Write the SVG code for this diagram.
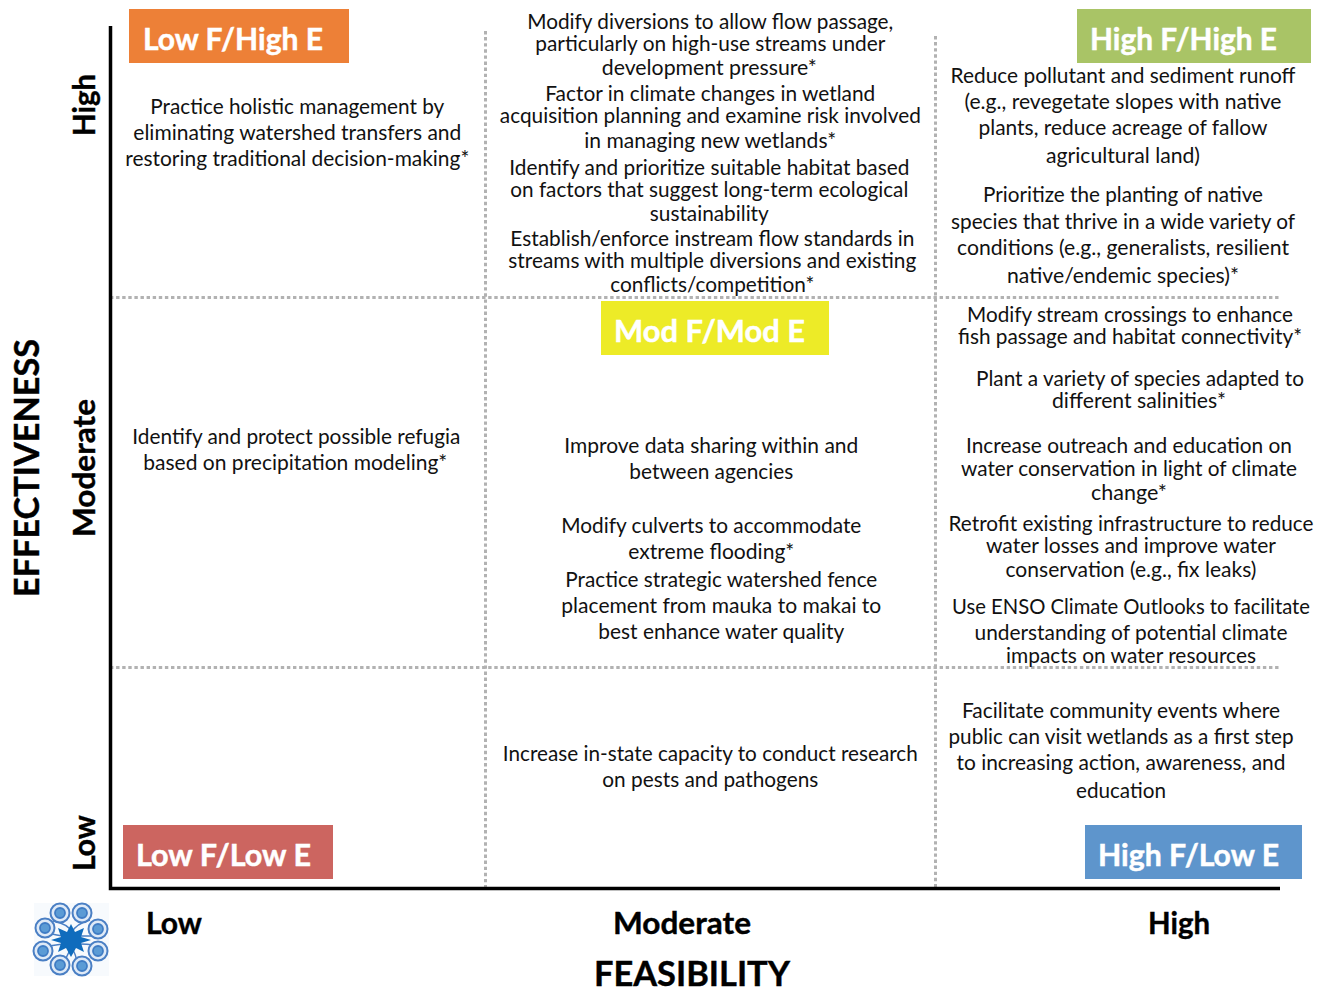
<svg xmlns="http://www.w3.org/2000/svg" width="1327" height="990" viewBox="0 0 1327 990">
<style>
text{font-family:"Lato","Liberation Sans",sans-serif;fill:#111}
.b{font-size:21px;text-anchor:middle}
.h{font-size:31px;font-weight:700;fill:#fff;stroke:#fff;stroke-width:.5px}
.a{font-size:30px;font-weight:700;text-anchor:middle;fill:#000;stroke:#000;stroke-width:.4px}
.t{font-size:34px;font-weight:700;text-anchor:middle;fill:#000;stroke:#000;stroke-width:.4px}
.d{fill:none;stroke:#b2b2b2;stroke-width:3;stroke-dasharray:3.4 2.7}
.x{fill:none;stroke:#000;stroke-width:3.5}
</style>
<rect width="1327" height="990" fill="#fff"/>
<g id="connectors">
<path class="d" d="M485.500 31V888M935.500 36V888M110 297.500H1280M110 667.500H1280"/>
<path class="x" d="M110.500 26V888.500H1280"/>
</g>
<g id="low-high"><rect x="129" y="9" width="220" height="54" fill="#ED8037"/><text class="h" x="143" y="49.500" textLength="180" lengthAdjust="spacingAndGlyphs">Low F/High E</text></g>
<g id="high-high"><rect x="1077" y="9" width="234" height="54" fill="#A9C466"/><text class="h" x="1090" y="49.500" textLength="187" lengthAdjust="spacingAndGlyphs">High F/High E</text></g>
<g id="mod-mod"><rect x="601" y="301" width="228" height="54" fill="#EDEB27"/><text class="h" x="614" y="341.500" textLength="191" lengthAdjust="spacingAndGlyphs">Mod F/Mod E</text></g>
<g id="low-low"><rect x="123" y="825" width="210" height="54" fill="#CC6560"/><text class="h" x="136" y="865.500" textLength="175" lengthAdjust="spacingAndGlyphs">Low F/Low E</text></g>
<g id="high-low"><rect x="1085" y="825" width="217" height="54" fill="#5E95CC"/><text class="h" x="1098" y="865.500" textLength="181" lengthAdjust="spacingAndGlyphs">High F/Low E</text></g>
<g id="axis-labels">
<text class="t" transform="translate(38.500 468) rotate(-90)" textLength="258" lengthAdjust="spacingAndGlyphs">EFFECTIVENESS</text>
<text class="a" transform="translate(94.500 105) rotate(-90)" textLength="62" lengthAdjust="spacingAndGlyphs">High</text>
<text class="a" transform="translate(94.500 468) rotate(-90)" textLength="138" lengthAdjust="spacingAndGlyphs">Moderate</text>
<text class="a" transform="translate(94.500 843) rotate(-90)" textLength="56" lengthAdjust="spacingAndGlyphs">Low</text>
<text class="a" x="174" y="933.500" textLength="56" lengthAdjust="spacingAndGlyphs">Low</text>
<text class="a" x="682" y="933.500" textLength="138" lengthAdjust="spacingAndGlyphs">Moderate</text>
<text class="a" x="1179" y="933.500" textLength="62" lengthAdjust="spacingAndGlyphs">High</text>
<text class="t" x="692" y="986" textLength="196" lengthAdjust="spacingAndGlyphs">FEASIBILITY</text>
</g>
<g id="low-column" transform="translate(0.300 0.700)">
<text class="b" x="297" y="113" textLength="294" lengthAdjust="spacingAndGlyphs">Practice holistic management by</text>
<text class="b" x="297" y="139" textLength="328" lengthAdjust="spacingAndGlyphs">eliminating watershed transfers and</text>
<text class="b" x="297" y="165" textLength="344" lengthAdjust="spacingAndGlyphs">restoring traditional decision-making*</text>
<text class="b" x="296" y="443" textLength="328" lengthAdjust="spacingAndGlyphs">Identify and protect possible refugia</text>
<text class="b" x="295" y="469" textLength="304" lengthAdjust="spacingAndGlyphs">based on precipitation modeling*</text>
</g>
<g id="moderate-column" transform="translate(0.300 0.700)">
<text class="b" x="710" y="28" textLength="366" lengthAdjust="spacingAndGlyphs">Modify diversions to allow flow passage,</text>
<text class="b" x="710" y="50" textLength="350" lengthAdjust="spacingAndGlyphs">particularly on high-use streams under</text>
<text class="b" x="709" y="74" textLength="215" lengthAdjust="spacingAndGlyphs">development pressure*</text>
<text class="b" x="710" y="100" textLength="330" lengthAdjust="spacingAndGlyphs">Factor in climate changes in wetland</text>
<text class="b" x="710" y="122" textLength="421" lengthAdjust="spacingAndGlyphs">acquisition planning and examine risk involved</text>
<text class="b" x="710" y="147" textLength="252" lengthAdjust="spacingAndGlyphs">in managing new wetlands*</text>
<text class="b" x="709" y="174" textLength="400" lengthAdjust="spacingAndGlyphs">Identify and prioritize suitable habitat based</text>
<text class="b" x="709" y="196" textLength="398" lengthAdjust="spacingAndGlyphs">on factors that suggest long-term ecological</text>
<text class="b" x="709" y="220" textLength="119" lengthAdjust="spacingAndGlyphs">sustainability</text>
<text class="b" x="712" y="245" textLength="404" lengthAdjust="spacingAndGlyphs">Establish/enforce instream flow standards in</text>
<text class="b" x="712" y="267" textLength="408" lengthAdjust="spacingAndGlyphs">streams with multiple diversions and existing</text>
<text class="b" x="712" y="291" textLength="204" lengthAdjust="spacingAndGlyphs">conflicts/competition*</text>
<text class="b" x="711" y="452" textLength="294" lengthAdjust="spacingAndGlyphs">Improve data sharing within and</text>
<text class="b" x="711" y="478" textLength="164" lengthAdjust="spacingAndGlyphs">between agencies</text>
<text class="b" x="711" y="532" textLength="300" lengthAdjust="spacingAndGlyphs">Modify culverts to accommodate</text>
<text class="b" x="711" y="558" textLength="166" lengthAdjust="spacingAndGlyphs">extreme flooding*</text>
<text class="b" x="721" y="586" textLength="312" lengthAdjust="spacingAndGlyphs">Practice strategic watershed fence</text>
<text class="b" x="721" y="612" textLength="320" lengthAdjust="spacingAndGlyphs">placement from mauka to makai to</text>
<text class="b" x="721" y="638" textLength="246" lengthAdjust="spacingAndGlyphs">best enhance water quality</text>
<text class="b" x="710" y="760" textLength="415" lengthAdjust="spacingAndGlyphs">Increase in-state capacity to conduct research</text>
<text class="b" x="710" y="786" textLength="216" lengthAdjust="spacingAndGlyphs">on pests and pathogens</text>
</g>
<g id="high-column" transform="translate(0 0.700)">
<text class="b" x="1123" y="82" textLength="345" lengthAdjust="spacingAndGlyphs">Reduce pollutant and sediment runoff</text>
<text class="b" x="1123" y="108" textLength="317" lengthAdjust="spacingAndGlyphs">(e.g., revegetate slopes with native</text>
<text class="b" x="1123" y="134" textLength="289" lengthAdjust="spacingAndGlyphs">plants, reduce acreage of fallow</text>
<text class="b" x="1123" y="162" textLength="154" lengthAdjust="spacingAndGlyphs">agricultural land)</text>
<text class="b" x="1123" y="201" textLength="280" lengthAdjust="spacingAndGlyphs">Prioritize the planting of native</text>
<text class="b" x="1123" y="228" textLength="344" lengthAdjust="spacingAndGlyphs">species that thrive in a wide variety of</text>
<text class="b" x="1123" y="254" textLength="332" lengthAdjust="spacingAndGlyphs">conditions (e.g., generalists, resilient</text>
<text class="b" x="1123" y="282" textLength="232" lengthAdjust="spacingAndGlyphs">native/endemic species)*</text>
<text class="b" x="1130" y="321" textLength="326" lengthAdjust="spacingAndGlyphs">Modify stream crossings to enhance</text>
<text class="b" x="1130" y="343" textLength="344" lengthAdjust="spacingAndGlyphs">fish passage and habitat connectivity*</text>
<text class="b" x="1140" y="385" textLength="328" lengthAdjust="spacingAndGlyphs">Plant a variety of species adapted to</text>
<text class="b" x="1139" y="407" textLength="174" lengthAdjust="spacingAndGlyphs">different salinities*</text>
<text class="b" x="1129" y="452" textLength="326" lengthAdjust="spacingAndGlyphs">Increase outreach and education on</text>
<text class="b" x="1129" y="475" textLength="336" lengthAdjust="spacingAndGlyphs">water conservation in light of climate</text>
<text class="b" x="1129" y="499" textLength="76" lengthAdjust="spacingAndGlyphs">change*</text>
<text class="b" x="1131" y="530" textLength="365" lengthAdjust="spacingAndGlyphs">Retrofit existing infrastructure to reduce</text>
<text class="b" x="1131" y="552" textLength="290" lengthAdjust="spacingAndGlyphs">water losses and improve water</text>
<text class="b" x="1131" y="576" textLength="251" lengthAdjust="spacingAndGlyphs">conservation (e.g., fix leaks)</text>
<text class="b" x="1131" y="613" textLength="358" lengthAdjust="spacingAndGlyphs">Use ENSO Climate Outlooks to facilitate</text>
<text class="b" x="1131" y="639" textLength="313" lengthAdjust="spacingAndGlyphs">understanding of potential climate</text>
<text class="b" x="1131" y="662" textLength="250" lengthAdjust="spacingAndGlyphs">impacts on water resources</text>
<text class="b" x="1121" y="717" textLength="318" lengthAdjust="spacingAndGlyphs">Facilitate community events where</text>
<text class="b" x="1121" y="743" textLength="345" lengthAdjust="spacingAndGlyphs">public can visit wetlands as a first step</text>
<text class="b" x="1121" y="769" textLength="329" lengthAdjust="spacingAndGlyphs">to increasing action, awareness, and</text>
<text class="b" x="1121" y="797" textLength="90" lengthAdjust="spacingAndGlyphs">education</text>
</g>
<g id="logo">
<rect x="34" y="903" width="75" height="73" fill="#f7fafd"/>
<path fill="none" stroke="#4a7fc4" stroke-width="1.500" d="M72 932Q68 924 53 921M72 932Q76 924 90 920M80 936Q88 936 92 936M80 944Q88 944 91 945M73 950Q76 956 76 958M70 950Q67 956 66 958M63 944Q56 945 49 946M63 936Q56 935 52 934"/>
<g fill="#dfeaf7" stroke="#4a7fc4" stroke-width="2">
<circle cx="60" cy="913" r="9.500"/><circle cx="82" cy="913" r="9.500"/><circle cx="98" cy="929" r="9.500"/><circle cx="98" cy="951" r="9.500"/><circle cx="82" cy="966" r="9.500"/><circle cx="60" cy="965" r="9.500"/><circle cx="43" cy="951" r="9.500"/><circle cx="45" cy="928" r="9.500"/>
</g>
<g fill="#5b9bd5" stroke="#3f7cc4" stroke-width="1.800">
<circle cx="60" cy="913" r="5"/><circle cx="82" cy="913" r="5"/><circle cx="98" cy="929" r="5"/><circle cx="98" cy="951" r="5"/><circle cx="82" cy="966" r="5"/><circle cx="60" cy="965" r="5"/><circle cx="43" cy="951" r="5"/><circle cx="45" cy="928" r="5"/>
</g>
<path fill="#0f6cbd" d="M71 924L75 932L84 928L81 937L91 940L81 943L84 952L76 948L71 957L66 948L58 952L61 943L51 940L61 937L58 928L67 932Z"/>
</g>
</svg>
